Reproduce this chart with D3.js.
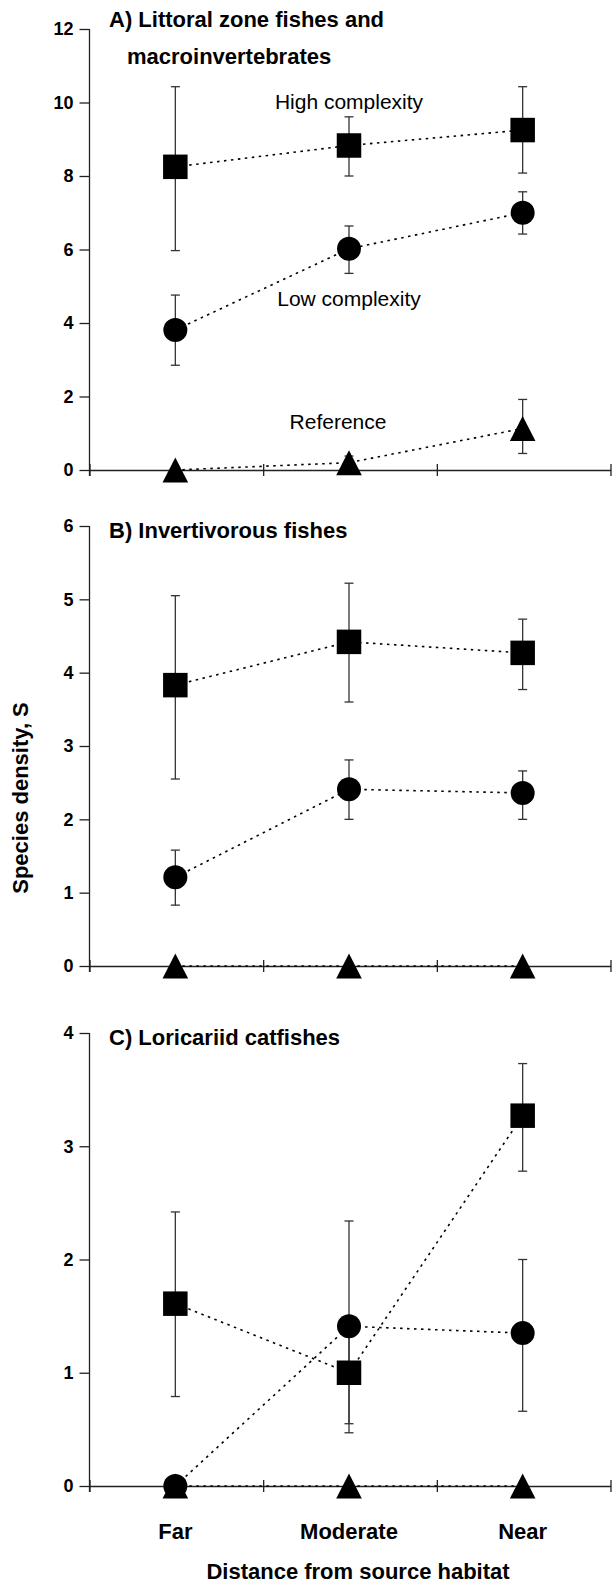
<!DOCTYPE html>
<html>
<head>
<meta charset="utf-8">
<script src="https://cdn.jsdelivr.net/npm/d3@7"></script>
<style>
  body { margin: 0; background: #fff; }
  svg { display: block; }
</style>
</head>
<body>
<script>
const categories = ["Far", "Moderate", "Near"];

// A) Littoral zone fishes and macroinvertebrates
const aHigh = [8.25, 8.83, 9.25], aHighLo = [5.97, 8.0, 8.08], aHighHi = [10.43, 9.61, 10.43];
const aLow = [3.81, 6.02, 7.0], aLowLo = [2.85, 5.35, 6.42], aLowHi = [4.76, 6.64, 7.57];
const aRef = [0, 0.2, 1.13], aRefLo = [0, 0.1, 0.45], aRefHi = [0, 0.38, 1.92];

// B) Invertivorous fishes
const bHigh = [3.83, 4.42, 4.27], bHighLo = [2.55, 3.6, 3.77], bHighHi = [5.05, 5.22, 4.73];
const bLow = [1.21, 2.41, 2.36], bLowLo = [0.83, 2.0, 2.0], bLowHi = [1.58, 2.81, 2.66];
const bRef = [0, 0, 0];

// C) Loricariid catfishes
const cHigh = [1.61, 1.0, 3.27], cHighLo = [0.79, 0.55, 2.78], cHighHi = [2.42, 1.45, 3.73];
const cLow = [0, 1.41, 1.35], cLowLo = [0, 0.47, 0.66], cLowHi = [0, 2.34, 2.0];
const cRef = [0, 0, 0];

const yTicksA = [0, 2, 4, 6, 8, 10, 12];
const yTicksB = [0, 1, 2, 3, 4, 5, 6];
const yTicksC = [0, 1, 2, 3, 4];

const titleA = ["A) Littoral zone fishes and", "macroinvertebrates"];
const titleB = ["B) Invertivorous fishes"];
const titleC = ["C) Loricariid catfishes"];
const yTitle = "Species density, S";
const xTitle = "Distance from source habitat";

const seriesLabelsA = [
  {text: "High complexity", value: 9.81},
  {text: "Low complexity", value: 4.46},
  {text: "Reference", value: 1.11}
];

const panels = [
  {title: titleA, ticks: yTicksA, top: 29, bottom: 470,
   series: [
     {shape: "tri", mean: aRef, lo: aRefLo, hi: aRefHi},
     {shape: "circle", mean: aLow, lo: aLowLo, hi: aLowHi},
     {shape: "square", mean: aHigh, lo: aHighLo, hi: aHighHi}
   ]},
  {title: titleB, ticks: yTicksB, top: 526, bottom: 966,
   series: [
     {shape: "tri", mean: bRef, lo: bRef, hi: bRef},
     {shape: "circle", mean: bLow, lo: bLowLo, hi: bLowHi},
     {shape: "square", mean: bHigh, lo: bHighLo, hi: bHighHi}
   ]},
  {title: titleC, ticks: yTicksC, top: 1033, bottom: 1486,
   series: [
     {shape: "tri", mean: cRef, lo: cRef, hi: cRef},
     {shape: "square", mean: cHigh, lo: cHighLo, hi: cHighHi},
     {shape: "circle", mean: cLow, lo: cLowLo, hi: cLowHi}
   ]}
];

const W = 612, H = 1585;
const left = 89.5, right = 610.5;
const font = "'Liberation Sans', Arial, Helvetica, sans-serif";
const axisColor = "#222";

const svg = d3.select("body").append("svg")
    .attr("width", W)
    .attr("height", H)
    .style("font-family", font);

const x = d3.scaleBand().domain(categories).range([left, right]);
const xEdge = d3.scaleLinear().domain([0, categories.length]).range([left, right]);
const cx = i => x(categories[i]) + x.bandwidth() / 2 - 1;

panels.forEach((p, pi) => {
  const y = d3.scaleLinear().domain([0, d3.max(p.ticks)]).range([p.bottom, p.top]);
  const g = svg.append("g");

  // y axis
  const ya = g.append("g")
      .attr("transform", `translate(${left},0)`)
      .call(d3.axisLeft(y).tickValues(p.ticks).tickSize(10).tickPadding(6).tickFormat(d3.format("d")));
  ya.select(".domain").remove();
  ya.selectAll(".tick line").attr("stroke", axisColor).attr("stroke-width", 1.3);
  ya.selectAll(".tick text")
      .attr("fill", "#000")
      .style("font-family", font)
      .style("font-size", "18px")
      .style("font-weight", "bold");
  g.append("line")
      .attr("x1", left).attr("x2", left)
      .attr("y1", y(d3.max(p.ticks))).attr("y2", y(0) + 6)
      .attr("stroke", axisColor).attr("stroke-width", 1.3);

  // x axis at zero, ticks crossing the line
  const xa = g.append("g")
      .attr("transform", `translate(0,${y(0)})`)
      .call(d3.axisBottom(xEdge).tickValues(d3.range(categories.length + 1)).tickSize(6).tickSizeOuter(0).tickFormat(""));
  xa.select(".domain").attr("stroke", axisColor).attr("stroke-width", 1.3);
  xa.selectAll(".tick line").attr("y1", -6).attr("stroke", axisColor).attr("stroke-width", 1.3);

  // title
  p.title.forEach((t, i) => {
    g.append("text")
        .attr("x", i === 0 ? 109 : 127)
        .attr("y", p.top - 2.5 + (i === 0 ? (pi === 0 ? 0 : 14.5) : 37))
        .style("font-size", "22px")
        .style("font-weight", "bold")
        .text(t);
  });

  // dotted lines
  const line = d3.line().x((d, i) => cx(i)).y(d => y(d));
  p.series.forEach(s => {
    g.append("path")
        .datum(s.mean)
        .attr("d", line)
        .attr("fill", "none")
        .attr("stroke", "#000")
        .attr("stroke-width", 1.6)
        .attr("stroke-dasharray", "2.5,4.5");
  });

  // error bars
  p.series.forEach(s => {
    s.mean.forEach((m, i) => {
      if (s.hi[i] === s.lo[i]) return;
      const eg = g.append("g").attr("stroke", "#333").attr("stroke-width", 1.3);
      eg.append("line").attr("x1", cx(i)).attr("x2", cx(i)).attr("y1", y(s.lo[i])).attr("y2", y(s.hi[i]));
      [s.lo[i], s.hi[i]].forEach(v => {
        eg.append("line").attr("x1", cx(i) - 4.5).attr("x2", cx(i) + 4.5).attr("y1", y(v)).attr("y2", y(v));
      });
    });
  });

  // markers
  p.series.forEach(s => {
    s.mean.forEach((m, i) => {
      const px = cx(i), py = y(m);
      if (s.shape === "square") {
        g.append("rect").attr("x", px - 12.25).attr("y", py - 12.25)
            .attr("width", 24.5).attr("height", 24.5).attr("fill", "#000");
      } else if (s.shape === "circle") {
        g.append("circle").attr("cx", px).attr("cy", py).attr("r", 12).attr("fill", "#000");
      } else {
        g.append("path")
            .attr("d", `M${px},${py - 12.5}L${px + 12.8},${py + 12.5}L${px - 12.8},${py + 12.5}Z`)
            .attr("fill", "#000");
      }
    });
  });

  if (pi === 0) {
    const offs = [0, 0, -11];
    seriesLabelsA.forEach((l, i) => {
      g.append("text")
          .attr("x", cx(1) + offs[i])
          .attr("y", y(l.value))
          .attr("text-anchor", "middle")
          .style("font-size", "21px")
          .text(l.text);
    });
  }

  if (pi === panels.length - 1) {
    const xl = g.append("g")
        .attr("transform", `translate(-1,${y(0)})`)
        .call(d3.axisBottom(x).tickSize(0).tickPadding(37));
    xl.select(".domain").remove();
    xl.selectAll(".tick text")
        .attr("fill", "#000")
        .style("font-family", font)
        .style("font-size", "22px")
        .style("font-weight", "bold");
  }
});

// axis titles
svg.append("text")
    .attr("transform", "translate(27.5,798) rotate(-90)")
    .attr("text-anchor", "middle")
    .style("font-size", "22px")
    .style("font-weight", "bold")
    .text(yTitle);

svg.append("text")
    .attr("x", 358)
    .attr("y", 1579)
    .attr("text-anchor", "middle")
    .style("font-size", "22px")
    .style("font-weight", "bold")
    .text(xTitle);
</script>
</body>
</html>
